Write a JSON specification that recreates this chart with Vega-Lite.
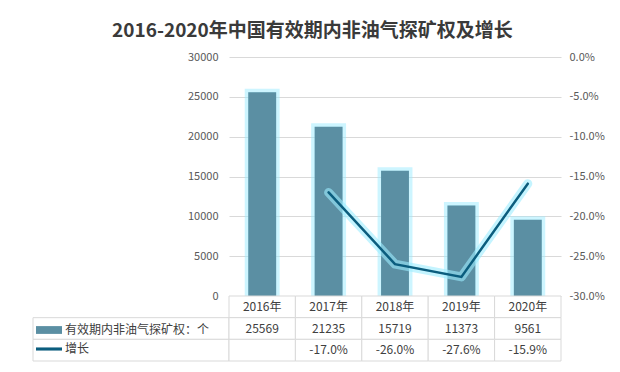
{
  "$schema": "https://vega.github.io/schema/vega-lite/v6.json",
  "padding": {"left": 32, "top": 22, "right": 5, "bottom": 5},
  "background": "white",
  "title": {"text": "2016-2020年中国有效期内非油气探矿权及增长", "fontSize": 19, "fontWeight": "bold", "color": "#3a3a3a", "font": "Noto Sans CJK SC", "anchor": "middle", "offset": 10, "dx": -6},
  "datasets": {
    "main": [
      {"year": "2016年", "series": "有效期内非油气探矿权：个", "value": 25569, "growth": null},
      {"year": "2017年", "series": "有效期内非油气探矿权：个", "value": 21235, "growth": -0.17},
      {"year": "2018年", "series": "有效期内非油气探矿权：个", "value": 15719, "growth": -0.26},
      {"year": "2019年", "series": "有效期内非油气探矿权：个", "value": 11373, "growth": -0.276},
      {"year": "2020年", "series": "有效期内非油气探矿权：个", "value": 9561, "growth": -0.159}
    ],
    "lineSeries": [
      {"year": "2017年", "series": "增长", "growth": -0.17},
      {"year": "2018年", "series": "增长", "growth": -0.26},
      {"year": "2019年", "series": "增长", "growth": -0.276},
      {"year": "2020年", "series": "增长", "growth": -0.159}
    ],
    "rows": [{"row": "a"}, {"row": "b"}]
  },
  "columns": 2,
  "spacing": 0,
  "bounds": "flush",
  "resolve": {"scale": {"x": "independent", "y": "independent", "color": "shared"}},
  "concat": [
    {
      "width": 196, "height": 239,
      "data": {"name": "rows"},
      "mark": {"type": "text"},
      "encoding": {"text": {"value": ""}}
    },
    {
      "width": 332, "height": 239,
      "layer": [
        {
          "data": {"name": "main"},
          "encoding": {
            "x": {"field": "year", "type": "ordinal", "scale": {"paddingInner": 0.58, "paddingOuter": 0.29}, "axis": null},
            "y": {"field": "value", "type": "quantitative", "scale": {"domain": [0, 30000]},
              "axis": {"orient": "left", "values": [0, 5000, 10000, 15000, 20000, 25000, 30000], "grid": true, "gridColor": "#d9d9d9", "domain": false, "ticks": false, "labelPadding": 11, "labelFontSize": 11, "labelColor": "#595959", "title": null, "format": "d"}}
          },
          "layer": [
            {"mark": {"type": "bar", "fill": "#9cecff", "stroke": "#9cecff", "strokeWidth": 7, "strokeOpacity": 0.5, "fillOpacity": 0.6, "clip": true}},
            {"mark": {"type": "bar"}, "encoding": {"color": {"field": "series", "type": "nominal",
              "scale": {"domain": ["有效期内非油气探矿权：个", "增长"], "range": ["#5b8fa3", "#0b5d7e"]},
              "legend": {"orient": "none", "legendX": 3, "legendY": 260, "title": null, "labelFontSize": 12, "labelColor": "#404040", "labelFont": "Noto Sans CJK SC", "symbolSize": 676, "rowPadding": 0, "labelOffset": 3,
                "encode": {"symbols": {"update": {
                  "shape": {"signal": "datum.value === '增长' ? 'M-1,-0.12H1V0.12H-1Z' : 'M-1,-0.3H1V0.3H-1Z'"},
                  "fill": {"scale": "color", "field": "value"},
                  "strokeWidth": {"value": 0},
                  "opacity": {"value": 1}
                }}}}}}}
          ]
        },
        {
          "data": {"name": "lineSeries"},
          "encoding": {
            "x": {"field": "year", "type": "ordinal", "axis": null},
            "y": {"field": "growth", "type": "quantitative", "scale": {"domain": [-0.3, 0]},
              "axis": {"orient": "right", "values": [-0.3, -0.25, -0.2, -0.15, -0.1, -0.05, 0], "format": ".1%", "grid": false, "domain": false, "ticks": false, "labelPadding": 8, "labelFontSize": 11, "labelColor": "#595959", "title": null}}
          },
          "layer": [
            {"mark": {"type": "line", "color": "#9cecff", "strokeWidth": 9, "opacity": 0.6, "strokeCap": "round", "strokeJoin": "round"}},
            {"mark": {"type": "line", "strokeWidth": 2.5, "strokeCap": "round"}, "encoding": {"color": {"field": "series", "type": "nominal"}}}
          ]
        }
      ],
      "resolve": {"scale": {"y": "independent"}}
    },
    {
      "width": 196, "height": 65,
      "data": {"name": "rows"},
      "mark": {"type": "rect", "fill": "white", "stroke": "#d9d9d9", "strokeWidth": 1},
      "encoding": {
        "y": {"field": "row", "type": "nominal", "scale": {"domain": ["h", "a", "b"], "paddingInner": 0, "paddingOuter": 0}, "axis": null}
      }
    },
    {
      "width": 332, "height": 65,
      "data": {"name": "main"},
      "encoding": {
        "x": {"field": "year", "type": "ordinal", "scale": {"paddingInner": 0, "paddingOuter": 0}, "axis": null}
      },
      "layer": [
        {"mark": {"type": "rect", "fill": "white", "stroke": "#d9d9d9", "strokeWidth": 1}, "encoding": {"y": {"datum": "h", "type": "nominal", "scale": {"domain": ["h", "a", "b"], "paddingInner": 0, "paddingOuter": 0}, "axis": null}}},
        {"mark": {"type": "rect", "fill": "white", "stroke": "#d9d9d9", "strokeWidth": 1}, "encoding": {"y": {"datum": "a", "type": "nominal"}}},
        {"mark": {"type": "rect", "fill": "white", "stroke": "#d9d9d9", "strokeWidth": 1}, "encoding": {"y": {"datum": "b", "type": "nominal"}}},
        {"mark": {"type": "text", "fontSize": 12, "color": "#404040"}, "encoding": {"y": {"datum": "h", "type": "nominal"}, "text": {"field": "year"}}},
        {"mark": {"type": "text", "fontSize": 12, "color": "#404040"}, "encoding": {"y": {"datum": "a", "type": "nominal"}, "text": {"field": "value", "format": "d"}}},
        {"transform": [{"filter": "datum.growth != null"}], "mark": {"type": "text", "fontSize": 12, "color": "#404040"}, "encoding": {"y": {"datum": "b", "type": "nominal"}, "text": {"field": "growth", "format": ".1%"}}}
      ]
    }
  ],
  "config": {
    "view": {"stroke": null},
    "font": "Noto Sans CJK SC",
    "locale": {"number": {"decimal": ".", "thousands": ",", "grouping": [3], "currency": ["$", ""], "minus": "-"}}
  }
}
